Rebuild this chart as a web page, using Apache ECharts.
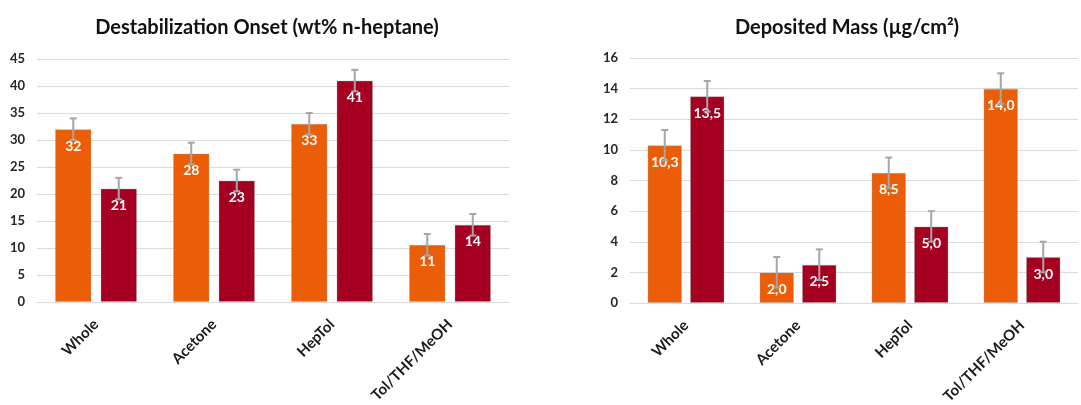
<!DOCTYPE html>
<html>
<head>
<meta charset="utf-8">
<script src="https://cdn.jsdelivr.net/npm/echarts@6/dist/echarts.min.js"></script>
<style>
html,body{margin:0;padding:0;background:#fff;}
#main{width:1081px;height:405px;}
</style>
</head>
<body>
<div id="main"></div>
<script>
// ---- data ----
const categories = ['Whole', 'Acetone', 'HepTol', 'Tol/THF/MeOH'];
const onsetOrange = [32.0, 27.5, 33.0, 10.6];
const onsetRed = [21.0, 22.5, 41.0, 14.3];
const onsetOrangeErr = [2, 2, 2, 2];
const onsetRedErr = [2, 2, 2, 2];
const massOrange = [10.3, 2.0, 8.5, 14.0];
const massRed = [13.5, 2.5, 5.0, 3.0];
const massOrangeErr = [1, 1, 1, 1];
const massRedErr = [1, 1, 1, 1];
const titleLeft = 'Destabilization Onset (wt% n-heptane)';
const titleRight = 'Deposited Mass (µg/cm²)';

// ---- styles ----
const ORANGE = '#EB5E07';
const RED = '#A50022';
const ERR = '#A6A6A6';
const GRID = '#DADADA';
const FONT = 'Lato';
const BW_L = 36.5, GAP_L = 9;
const BW_R = 34.5, GAP_R = 8;

const chart = echarts.init(document.getElementById('main'), null, {renderer: 'canvas'});

function errSeries(xi, yi, vals, errs, offset) {
  return {
    type: 'custom',
    xAxisIndex: xi, yAxisIndex: yi,
    z: 5,
    silent: true,
    data: vals.map((v, i) => [i, v, errs[i]]),
    renderItem: function (params, api) {
      const i = api.value(0), v = api.value(1), e = api.value(2);
      const top = api.coord([i, v + e]);
      const bot = api.coord([i, v - e]);
      const cx = top[0] + offset;
      const cap = 3.5;
      const st = {stroke: ERR, lineWidth: 2};
      return {
        type: 'group',
        children: [
          {type: 'line', shape: {x1: cx, y1: top[1], x2: cx, y2: bot[1]}, style: st},
          {type: 'line', shape: {x1: cx - cap, y1: top[1], x2: cx + cap, y2: top[1]}, style: st},
          {type: 'line', shape: {x1: cx - cap, y1: bot[1], x2: cx + cap, y2: bot[1]}, style: st}
        ]
      };
    }
  };
}

function barSeries(xi, yi, vals, color, bw, gap, fmt) {
  return {
    type: 'bar',
    xAxisIndex: xi, yAxisIndex: yi,
    data: vals,
    barWidth: bw,
    barGap: (gap / bw * 100) + '%',
    itemStyle: {color: color, borderColor: 'rgba(160,160,160,0.35)', borderWidth: 1},
    label: {
      show: true, position: 'insideTop', distance: 10,
      color: '#fff', fontFamily: FONT, fontWeight: 'bold', fontSize: 14,
      formatter: fmt
    }
  };
}

const fmtInt = p => String(Math.round(p.value));
const fmtComma = p => p.value.toFixed(1).replace('.', ',');

const axisLabelY = {color: '#262626', fontFamily: FONT, fontWeight: 'bold', fontSize: 13, margin: 12};
const axisLabelX = {color: '#1a1a1a', fontFamily: FONT, fontWeight: 'bold', fontSize: 15, rotate: 45, margin: 20, interval: 0};

chart.setOption({
  animation: false,
  title: [
    {text: titleLeft, left: 262, top: 13, textAlign: 'center',
     textStyle: {fontFamily: FONT, fontWeight: 'bold', fontSize: 20, color: '#111'}},
    {text: titleRight, left: 842, top: 13, textAlign: 'center',
     textStyle: {fontFamily: FONT, fontWeight: 'bold', fontSize: 20, color: '#111'}}
  ],
  grid: [
    {left: 37, right: 572, top: 59, bottom: 103, containLabel: false, outerBoundsMode: 'none'},
    {left: 630, right: 3, top: 58, bottom: 102, containLabel: false, outerBoundsMode: 'none'}
  ],
  xAxis: [
    {type: 'category', gridIndex: 0, data: categories,
     axisTick: {show: false}, axisLine: {lineStyle: {color: GRID}}, axisLabel: axisLabelX},
    {type: 'category', gridIndex: 1, data: categories,
     axisTick: {show: false}, axisLine: {lineStyle: {color: GRID}}, axisLabel: axisLabelX}
  ],
  yAxis: [
    {type: 'value', gridIndex: 0, min: 0, max: 45, interval: 5,
     axisLine: {show: false}, axisTick: {show: false},
     splitLine: {lineStyle: {color: GRID, width: 1}}, axisLabel: axisLabelY},
    {type: 'value', gridIndex: 1, min: 0, max: 16, interval: 2,
     axisLine: {show: false}, axisTick: {show: false},
     splitLine: {lineStyle: {color: GRID, width: 1}}, axisLabel: axisLabelY}
  ],
  series: [
    barSeries(0, 0, onsetOrange, ORANGE, BW_L, GAP_L, fmtInt),
    barSeries(0, 0, onsetRed, RED, BW_L, GAP_L, fmtInt),
    barSeries(1, 1, massOrange, ORANGE, BW_R, GAP_R, fmtComma),
    barSeries(1, 1, massRed, RED, BW_R, GAP_R, fmtComma),
    errSeries(0, 0, onsetOrange, onsetOrangeErr, -(BW_L + GAP_L) / 2),
    errSeries(0, 0, onsetRed, onsetRedErr, (BW_L + GAP_L) / 2),
    errSeries(1, 1, massOrange, massOrangeErr, -(BW_R + GAP_R) / 2),
    errSeries(1, 1, massRed, massRedErr, (BW_R + GAP_R) / 2)
  ]
});
</script>
</body>
</html>
